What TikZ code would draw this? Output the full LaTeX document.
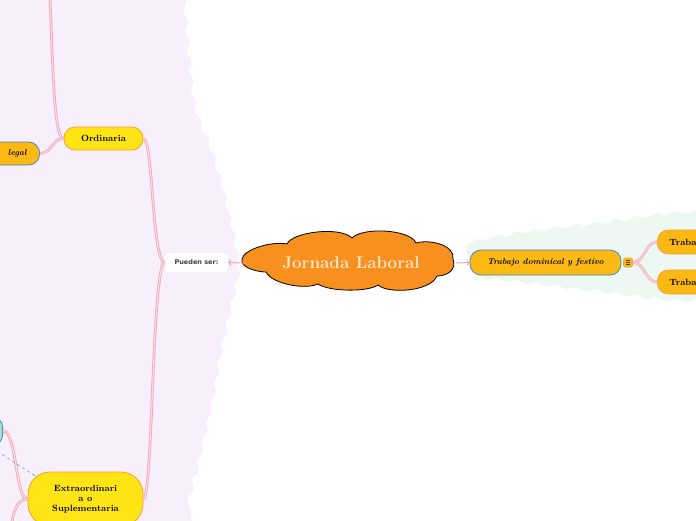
\documentclass[tikz,border=0pt]{standalone}
\usepackage{fontspec}
\newfontfamily\etiqueta{DejaVu Sans}
\usetikzlibrary{decorations.pathmorphing,arrows.meta}
\definecolor{lila}{HTML}{F7EFFC}
\definecolor{menta}{HTML}{EEF8F2}
\definecolor{naranja}{HTML}{F7901E}
\definecolor{ambar}{HTML}{FDB913}
\definecolor{amarillo}{HTML}{FFE516}
\definecolor{borde}{HTML}{F3A03A}
\definecolor{azul}{HTML}{3D8BC9}
\definecolor{rosa}{HTML}{F4A3B5}
\definecolor{rosaclaro}{HTML}{FCDDE4}
\definecolor{verdeagua}{HTML}{A8E2C8}
\definecolor{crema}{HTML}{FCE6CC}

\begin{document}
\begin{tikzpicture}[x=1pt, y=-1pt,
    rama/.style={draw=rosa, double=rosaclaro, double distance=1.1pt, line width=0.8pt},
    flecha/.style={draw=rosa, line width=1pt, -{To[length=3pt,width=6pt]}},
    caja/.style={inner sep=0pt, line width=0.8pt, font=\fontsize{9}{11.5}\selectfont\bfseries},
    tema/.style={caja, rounded corners=11pt, fill=amarillo, draw=borde, align=center},
    subtema/.style={caja, rounded corners=11pt, fill=ambar, draw=azul, font=\fontsize{8.5}{11}\selectfont\bfseries\itshape},
    hoja/.style={caja, rounded corners=11pt, fill=ambar, draw=borde},
    nube/.style={inner sep=0pt, minimum width=210pt, minimum height=50pt,
        text=crema, font=\fontsize{17}{20}\selectfont\bfseries\addfontfeature{LetterSpace=6}}]

    \useasboundingbox (0,0) rectangle (696,520);
    \clip (0,0) rectangle (696,520);

    % Zonas de fondo
    \fill[lila, decorate, decoration={snake, amplitude=1.8pt, segment length=20pt}]
        plot[smooth cycle] coordinates {(-40,-30) (178,-30) (180,0) (190,100) (208,150) (222,200)
        (234,262) (227,300) (216,350) (207,400) (196,450) (184,500) (180,540) (-40,550)};
    \fill[menta, decorate, decoration={snake, amplitude=1.6pt, segment length=20pt}]
        plot[smooth cycle] coordinates {(463,260) (472,243) (527,233) (593,225) (700,215)
        (730,260) (700,302) (593,293) (527,285) (472,278)};

    % Nube central
    \filldraw[fill=naranja, draw=black, line width=0.8pt, line join=round]
        (242,259) .. controls (244,249) and (272,241) .. (287,244)
        .. controls (292,232) and (340,226) .. (352,238)
        .. controls (362,227) and (410,229) .. (416,243)
        .. controls (430,239) and (455,245) .. (453,259)
        .. controls (457,270) and (447,276) .. (437,276)
        .. controls (430,292) and (388,294) .. (378,285)
        .. controls (368,292) and (330,292) .. (318,284)
        .. controls (305,290) and (272,284) .. (266,272)
        .. controls (258,272) and (240,268) .. cycle;
    \node[nube] (jornada) at (351,263) {Jornada Laboral};
    \node[rounded corners=3pt, fill=white, inner sep=0pt, minimum width=63pt, minimum height=19pt,
        text=black!75, font=\etiqueta\fontsize{6.5}{8}\selectfont\bfseries] (pueden) at (196.5,262.5) {Pueden ser:};

    % Rama izquierda
    \node[tema, minimum width=79pt, minimum height=23pt] (ordinaria) at (103.5,138.5) {Ordinaria};
    \node[subtema, anchor=east, text width=80pt, align=right, inner xsep=13pt, minimum height=23pt]
        (legal) at (40,153.5) {legal};
    \node[tema, rounded corners=22pt, minimum width=115pt, minimum height=54pt] (extra) at (85.5,499)
        {Extraordinari\\[-1.5pt] a o\\[-1.5pt] Suplementaria};
    \node[caja, anchor=east, rounded corners=10pt, fill=verdeagua, draw=azul, minimum width=40pt,
        minimum height=28pt] (verde) at (3,431) {};
    \coordinate (arriba) at (50,-2);
    \coordinate (abajo) at (12,522);
    \coordinate (d1) at (-8,448);
    \coordinate (d2) at (37,477);

    % Rama derecha
    \node[subtema, minimum width=151pt, minimum height=25pt] (trabajo) at (545.5,262.5) {Trabajo dominical y festivo};
    \node[inner sep=0pt, minimum size=9pt, rounded corners=1.5pt, fill=ambar, draw=borde, line width=0.6pt]
        (menu) at (628,262.5) {};
    \foreach \dy in {-2,0,2}
        \draw[black!75, line width=0.6pt] ([xshift=-2.3pt, yshift=\dy pt]menu.center) -- ([xshift=2.3pt, yshift=\dy pt]menu.center);
    \node[hoja, anchor=west, text width=50pt, align=left, inner xsep=12pt, minimum height=24pt]
        (hoja1) at (657,242) {Traba};
    \node[hoja, anchor=west, text width=50pt, align=left, inner xsep=12pt, minimum height=24pt]
        (hoja2) at (657,282) {Traba};

    % Conectores
    \draw[flecha] (jornada.west) -- (pueden.east);
    \draw[flecha] (jornada.east) -- (trabajo.west);
    \draw[rama] (pueden.west) .. controls (152,262.5) and (153,138.5) .. (ordinaria.east);
    \draw[rama] (pueden.west) .. controls (152,262.5) and (153,497) .. (extra.east);
    \draw[rama] (ordinaria.west) .. controls (54,138.5) and (53,70) .. (arriba);
    \draw[rama] (ordinaria.west) .. controls (52,138.5) and (52,153.5) .. (legal.east);
    \draw[rama] (extra.west) .. controls (15,499) and (17,431) .. (verde.east);
    \draw[rama] (extra.west) .. controls (18,499) and (14,510) .. (abajo);
    \draw[azul!80, dashed, line width=0.6pt] (d1) -- (d2);
    \draw[rama] (menu.east) .. controls (645,262.5) and (645,242) .. (hoja1.west);
    \draw[rama] (menu.east) .. controls (645,262.5) and (645,282) .. (hoja2.west);

\end{tikzpicture}
\end{document}
